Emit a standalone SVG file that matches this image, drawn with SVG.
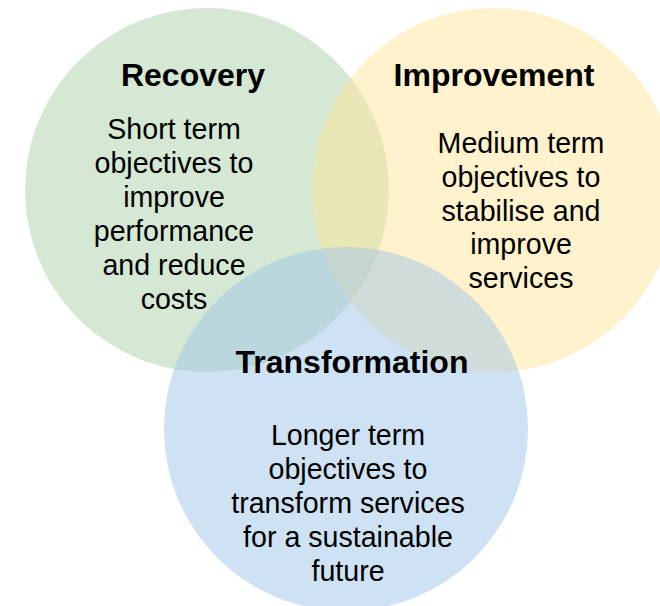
<svg xmlns="http://www.w3.org/2000/svg" width="660" height="606" viewBox="0 0 660 606">
<style>
.t{font-family:"Liberation Sans",Arial,sans-serif;fill:#000;text-anchor:middle}
.h{font-size:32px;font-weight:bold}
.b{font-size:28.6px}
</style>
<rect width="660" height="606" fill="#ffffff"/>
<g id="recovery">
<circle cx="207" cy="190" r="182" fill="#abd1a9" fill-opacity="0.5"/>
<text class="t h" x="193" y="86">Recovery</text>
<text class="t b" x="174" y="139">Short term</text>
<text class="t b" x="174" y="173">objectives to</text>
<text class="t b" x="174" y="207">improve</text>
<text class="t b" x="174" y="241">performance</text>
<text class="t b" x="174" y="275">and reduce</text>
<text class="t b" x="174" y="309">costs</text>
</g>
<g id="improvement">
<circle cx="494" cy="190" r="182" fill="#ffe599" fill-opacity="0.5"/>
<text class="t h" x="494" y="86">Improvement</text>
<text class="t b" x="521" y="153">Medium term</text>
<text class="t b" x="521" y="187">objectives to</text>
<text class="t b" x="521" y="221">stabilise and</text>
<text class="t b" x="521" y="254">improve</text>
<text class="t b" x="521" y="288">services</text>
</g>
<g id="transformation">
<circle cx="346" cy="429" r="182" fill="#9fc5e8" fill-opacity="0.5"/>
<text class="t h" x="352" y="373">Transformation</text>
<text class="t b" x="348" y="445">Longer term</text>
<text class="t b" x="348" y="479">objectives to</text>
<text class="t b" x="348" y="513">transform services</text>
<text class="t b" x="348" y="547">for a sustainable</text>
<text class="t b" x="348" y="581">future</text>
</g>
</svg>
